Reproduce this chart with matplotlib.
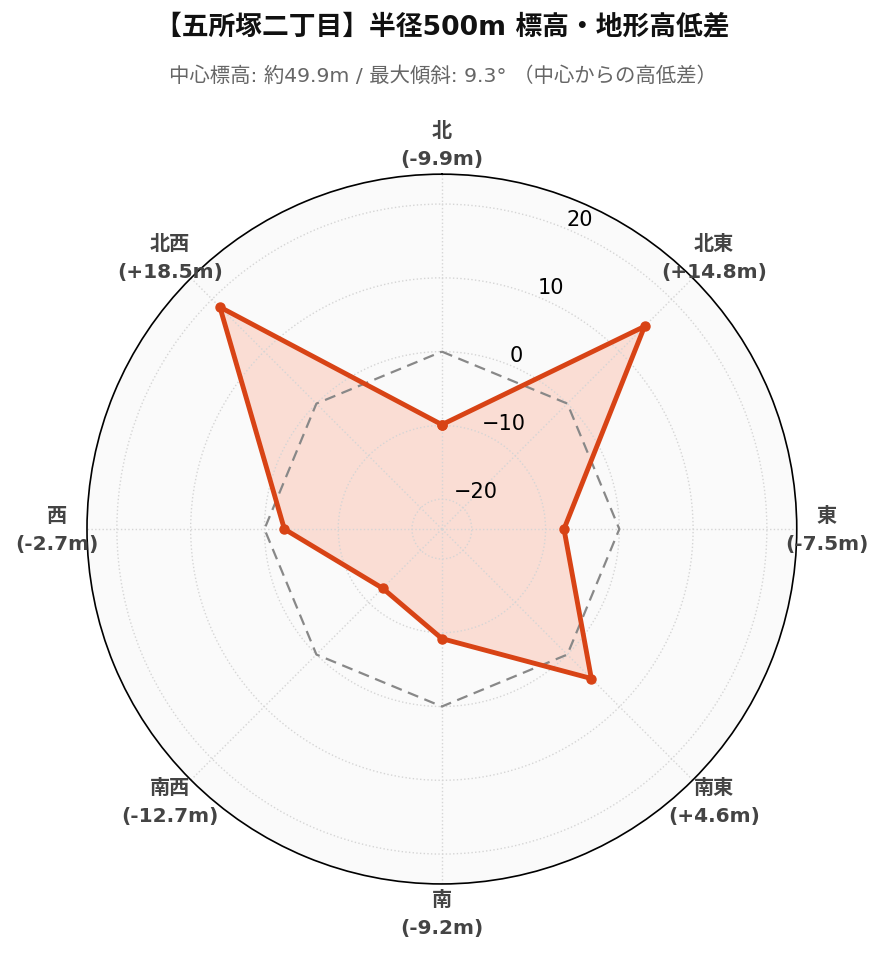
import numpy as np
import matplotlib
matplotlib.use("Agg")
import matplotlib.pyplot as plt

plt.rcParams['font.family'] = ['DejaVu Sans', 'Noto Sans CJK JP']

directions = ["北", "北東", "東", "南東", "南", "南西", "西", "北西"]
diffs = [-9.9, 14.8, -7.5, 4.6, -9.2, -12.7, -2.7, 18.5]
r_ticks = [-20, -10, 0, 10, 20]

title = "【五所塚二丁目】半径500m 標高・地形高低差"
subtitle = "中心標高: 約49.9m / 最大傾斜: 9.3° （中心からの高低差）"

line_color = "#D84315"
fill_color = "#FF6A3D"
lim = max(abs(v) for v in diffs) * 1.3

angles = np.linspace(0, 2 * np.pi, len(directions), endpoint=False)
a_closed = np.append(angles, angles[0])
v_closed = np.append(diffs, diffs[0])

fig = plt.figure(figsize=(8.85, 9.62), dpi=100)
ax = fig.add_axes([0.0983, 0.080, 0.802, 0.738], projection="polar")
ax.set_theta_zero_location("N")
ax.set_theta_direction(-1)
ax.set_facecolor("#fafafa")
ax.set_ylim(-lim, lim)

# zero reference
ax.plot(a_closed, np.zeros_like(a_closed), color="#888888", linestyle="--",
        linewidth=1.6, dashes=(5, 3), zorder=2)

ax.fill(a_closed, v_closed, color=fill_color, alpha=0.2, zorder=1)
ax.plot(a_closed, v_closed, color=line_color, linewidth=3.5, marker="o",
        markersize=6.5, zorder=3)

ax.set_xticks(angles)
ax.set_xticklabels([])
ax.set_yticks(r_ticks)
ax.set_yticklabels([f"{t}".replace("-", "\u2212") for t in r_ticks],
                   fontsize=15)
ax.set_rlabel_position(22.5)
ax.grid(True, color="#d5d5d5", linestyle=":", linewidth=1)
ax.spines["polar"].set_color("black")
ax.spines["polar"].set_linewidth(1.2)

for ang, name, v in zip(angles, directions, diffs):
    x = 0.5 + 0.542 * np.sin(ang)
    y = 0.5 + 0.542 * np.cos(ang)
    ax.text(x, y, f"{name}\n({v:+.1f}m)" if v > 0 else f"{name}\n({v:.1f}m)",
            transform=ax.transAxes, ha="center", va="center", fontsize=14.5,
            fontweight="bold", color="#444444", linespacing=1.6)

fig.text(0.5, 0.971, title, ha="center", va="center", fontsize=19.3,
         fontweight="bold", color="#111111")
fig.text(0.5, 0.921, subtitle, ha="center", va="center", fontsize=14.7,
         color="#666666")

fig.savefig("out.png", dpi=100)
